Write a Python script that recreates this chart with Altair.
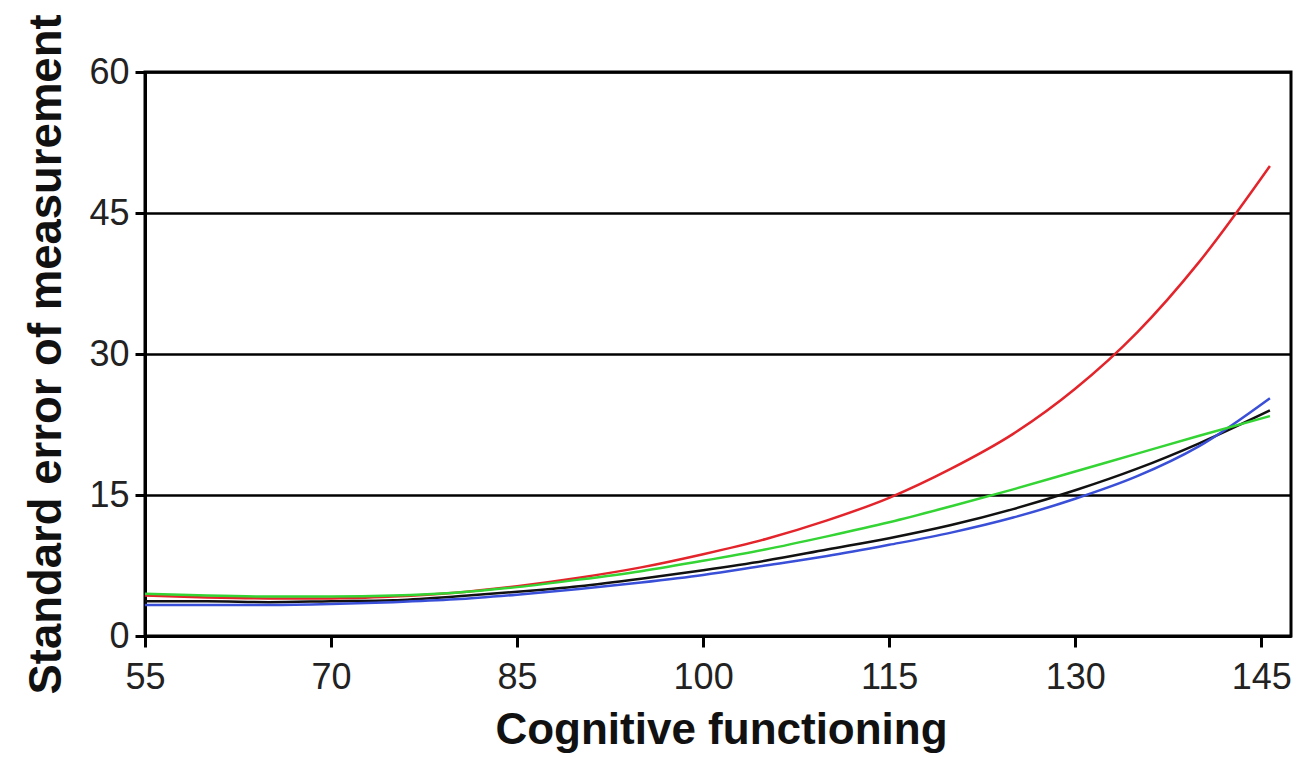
import altair as alt
import pandas as pd

# Cognitive functioning (x) and standard error of measurement per curve
x_vals = [55, 60, 65, 70, 75, 80, 85, 90, 95, 100, 105, 110, 115, 120, 125, 130, 135, 140, 145.7]
red_vals = [4.3, 4.1, 4.0, 4.0, 4.2, 4.6, 5.3, 6.2, 7.3, 8.7, 10.3, 12.3, 14.7, 17.8, 21.5, 26.3, 32.3, 39.8, 50.0]
green_vals = [4.5, 4.3, 4.2, 4.2, 4.3, 4.6, 5.2, 6.0, 6.9, 8.0, 9.2, 10.6, 12.1, 13.8, 15.6, 17.5, 19.4, 21.3, 23.4]
black_vals = [3.7, 3.7, 3.6, 3.7, 3.8, 4.2, 4.7, 5.3, 6.1, 7.0, 8.0, 9.2, 10.4, 11.8, 13.5, 15.5, 17.8, 20.5, 24.0]
blue_vals = [3.3, 3.3, 3.3, 3.4, 3.6, 3.9, 4.4, 5.0, 5.7, 6.5, 7.5, 8.5, 9.7, 11.0, 12.6, 14.6, 17.0, 20.2, 25.3]

series_names = ["red", "black", "blue", "green"]
series_colors = ["#e3242b", "#111111", "#3a4fd8", "#33d433"]
x_ticks = [55, 70, 85, 100, 115, 130, 145]
y_ticks = [0, 15, 30, 45, 60]

rows = []
for name, vals in zip(series_names, [red_vals, black_vals, blue_vals, green_vals]):
    for order, (xv, yv) in enumerate(zip(x_vals, vals)):
        rows.append({"series": name, "x": xv, "y": yv, "order": order})
df = pd.DataFrame(rows)

chart = (
    alt.Chart(df)
    .mark_line(strokeWidth=2.5, interpolate="monotone")
    .encode(
        x=alt.X(
            "x:Q",
            scale=alt.Scale(domain=[55, 147.4], nice=False, zero=False),
            axis=alt.Axis(
                values=x_ticks,
                title="Cognitive functioning",
                grid=False,
                domainColor="#000000",
                domainWidth=3,
                tickColor="#000000",
                tickWidth=3,
                tickSize=11,
                labelFontSize=36,
                labelFont="Liberation Sans",
                labelColor="#222222",
                labelPadding=13,
                labelFlush=False,
                labelOverlap=False,
                titleFontSize=44,
                titleFont="Liberation Sans",
                titleFontWeight="bold",
                titleColor="#111111",
                titleX=576,
                titleY=107,
                titleBaseline="alphabetic",
            ),
        ),
        y=alt.Y(
            "y:Q",
            scale=alt.Scale(domain=[0, 60], nice=False),
            axis=alt.Axis(
                values=y_ticks,
                title="Standard error of measurement",
                grid=True,
                gridColor="#000000",
                gridWidth=2.5,
                gridOpacity=1,
                domainColor="#000000",
                domainWidth=3,
                tickColor="#000000",
                tickWidth=3,
                tickSize=10,
                labelFontSize=36,
                labelFont="Liberation Sans",
                labelColor="#222222",
                labelPadding=6,
                labelFlush=False,
                titleFontSize=45.5,
                titleFont="Liberation Sans",
                titleFontWeight="bold",
                titleColor="#111111",
                titleX=-85,
                titleY=282,
                titleAngle=270,
                titleBaseline="alphabetic",
            ),
        ),
        color=alt.Color(
            "series:N",
            scale=alt.Scale(domain=series_names, range=series_colors),
            legend=None,
        ),
        order="order:Q",
        detail="series:N",
    )
    .properties(
        width=1146,
        height=564,
        padding={"left": 137, "top": 64, "right": 2, "bottom": 118},
        autosize=alt.AutoSizeParams(type="none"),
        background="#ffffff",
    )
    .configure_view(stroke="#000000", strokeWidth=3, fill="#ffffff")
)

chart.save("out.html", embed_options={"renderer": "svg", "actions": False})
